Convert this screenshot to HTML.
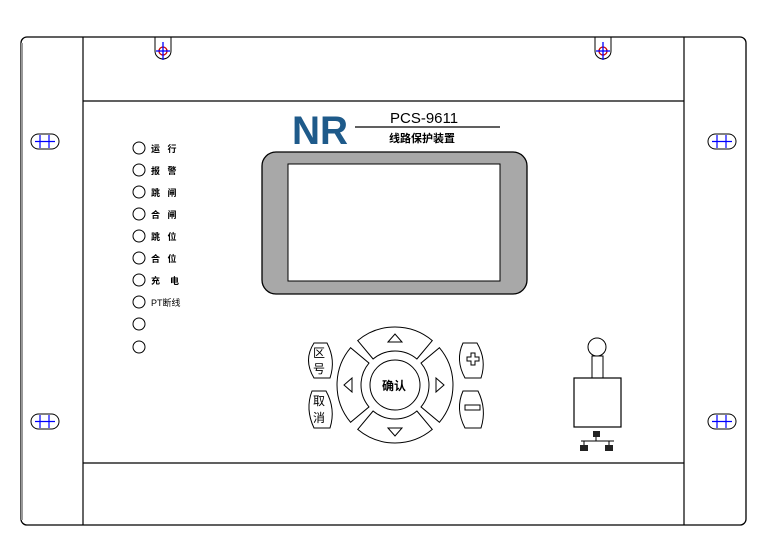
<!DOCTYPE html>
<html><head><meta charset="utf-8"><style>
html,body{margin:0;padding:0;background:#fff;}
svg{display:block;}
text{font-family:"Liberation Sans","Noto Sans CJK SC",sans-serif;}
</style></head><body>
<svg width="777" height="544" viewBox="0 0 777 544" xmlns="http://www.w3.org/2000/svg">
<rect x="21" y="37" width="725" height="488" rx="6" fill="#fff" stroke="#000" stroke-width="1.3"/>
<line x1="22" y1="43" x2="22" y2="520" stroke="#999" stroke-width="2"/>
<line x1="83" y1="37" x2="83" y2="525" stroke="#000" stroke-width="1.2"/>
<line x1="684" y1="37" x2="684" y2="525" stroke="#000" stroke-width="1.2"/>
<line x1="83" y1="101" x2="684" y2="101" stroke="#000" stroke-width="1.2"/>
<line x1="83" y1="463" x2="684" y2="463" stroke="#000" stroke-width="1.2"/>
<g fill="none" stroke="#000" stroke-width="1">
<path d="M155,37 V51 A8,8 0 0 0 171,51 V37"/>
<path d="M595,37 V51 A8,8 0 0 0 611,51 V37"/>
</g>
<g stroke-width="1.3">
<circle cx="163" cy="51" r="4" fill="none" stroke="#c00"/><line x1="163" y1="42" x2="163" y2="60" stroke="#00f"/><line x1="156" y1="51" x2="170" y2="51" stroke="#00f"/>
<circle cx="603" cy="51" r="4" fill="none" stroke="#c00"/><line x1="603" y1="42" x2="603" y2="60" stroke="#00f"/><line x1="596" y1="51" x2="610" y2="51" stroke="#00f"/>
</g>
<g>
<rect x="31" y="134" width="28" height="15" rx="7.5" fill="#fff" stroke="#000"/>
<rect x="31" y="414" width="28" height="15" rx="7.5" fill="#fff" stroke="#000"/>
<rect x="708" y="134" width="28" height="15" rx="7.5" fill="#fff" stroke="#000"/>
<rect x="708" y="414" width="28" height="15" rx="7.5" fill="#fff" stroke="#000"/>
<g stroke="#00f" stroke-width="1.2">
<path d="M35,141.5H55M40,135V148M49,135V148"/>
<path d="M35,421.5H55M40,415V428M49,415V428"/>
<path d="M712,141.5H732M717,135V148M726,135V148"/>
<path d="M712,421.5H732M717,415V428M726,415V428"/>
</g></g>
<text x="292" y="144" font-size="40" font-weight="bold" fill="#1e5a8a" textLength="56" lengthAdjust="spacingAndGlyphs" style="font-family:'Liberation Sans',sans-serif">NR</text>
<text x="390" y="123" font-size="15" fill="#000">PCS-9611</text>
<line x1="355" y1="127" x2="500" y2="127" stroke="#000" stroke-width="1.2"/>
<text x="389" y="142" font-size="11" fill="#000" font-weight="bold">线路保护装置</text>
<rect x="262" y="152" width="265" height="142" rx="14" fill="#a8a8a8" stroke="#000" stroke-width="1.3"/>
<rect x="288" y="164" width="212" height="117" fill="#fff" stroke="#000"/>
<g fill="#fff" stroke="#000" stroke-width="1">
<circle cx="139" cy="148" r="6"/><circle cx="139" cy="170" r="6"/><circle cx="139" cy="192" r="6"/><circle cx="139" cy="214" r="6"/><circle cx="139" cy="236" r="6"/><circle cx="139" cy="258" r="6"/><circle cx="139" cy="280" r="6"/><circle cx="139" cy="302" r="6"/><circle cx="139" cy="324" r="6"/><circle cx="139" cy="347" r="6"/>
</g>
<g font-size="9" fill="#000" font-weight="bold">
<text x="151" y="152">运 &#160; 行</text>
<text x="151" y="174">报 &#160; 警</text>
<text x="151" y="196">跳 &#160; 闸</text>
<text x="151" y="218">合 &#160; 闸</text>
<text x="151" y="240">跳 &#160; 位</text>
<text x="151" y="262">合 &#160; 位</text>
<text x="151" y="284">充 &#160; &#160;电</text>
<text x="151" y="306" font-weight="normal">PT断线</text>
</g>
<g fill="#fff" stroke="#000" stroke-width="1">
<path d="M357.7,340.6 A58,58 0 0 1 432.3,340.6 L416.9,359 A34,34 0 0 0 373.1,359 Z"/>
<path d="M432.3,429.4 A58,58 0 0 1 357.7,429.4 L373.1,411 A34,34 0 0 0 416.9,411 Z"/>
<path d="M439.4,347.7 A58,58 0 0 1 439.4,422.3 L421,406.9 A34,34 0 0 0 421,363.1 Z"/>
<path d="M350.6,422.3 A58,58 0 0 1 350.6,347.7 L369,363.1 A34,34 0 0 0 369,406.9 Z"/>
<circle cx="395" cy="385" r="25"/>
<path d="M314,343 H327 Q336,360 330,378 H314 Q303,360 314,343 Z"/>
<path d="M312,391 H326 Q336,409 330,428 H314 Q305,409 312,391 Z"/>
<path d="M463,343 H477 Q487,360 481,378 H465 Q455,360 463,343 Z"/>
<path d="M463,391 H478 Q487,409 481,428 H465 Q455,409 463,391 Z"/>
<path d="M388,342 L395,334 L402,342 Z"/>
<path d="M388,428 L395,436 L402,428 Z"/>
<path d="M352,378 L344,385 L352,392 Z"/>
<path d="M436,378 L444,385 L436,392 Z"/>
<path d="M467,357 h4 v-4 h4 v4 h4 v4 h-4 v4 h-4 v-4 h-4 Z"/>
<rect x="465" y="405" width="15" height="5"/>
</g>
<g font-size="12" fill="#000">
<text x="382" y="390" font-weight="bold">确认</text>
<text x="313" y="357">区</text><text x="313" y="373">号</text>
<text x="313" y="405">取</text><text x="313" y="422">消</text>
</g>
<circle cx="597" cy="347" r="9" fill="#fff" stroke="#000"/>
<rect x="592" y="356" width="11" height="22" fill="#fff" stroke="#000"/>
<rect x="574" y="378" width="47" height="49" fill="#fff" stroke="#000" stroke-width="1.2"/>
<rect x="593" y="431" width="7" height="6" fill="#222"/>
<line x1="596" y1="437" x2="596" y2="441" stroke="#000"/>
<line x1="581" y1="441" x2="614" y2="441" stroke="#000"/>
<line x1="584" y1="441" x2="584" y2="446" stroke="#000"/><line x1="609" y1="441" x2="609" y2="446" stroke="#000"/>
<rect x="580" y="445" width="8" height="6" fill="#222"/>
<rect x="605" y="445" width="8" height="6" fill="#222"/>
</svg>
</body></html>
